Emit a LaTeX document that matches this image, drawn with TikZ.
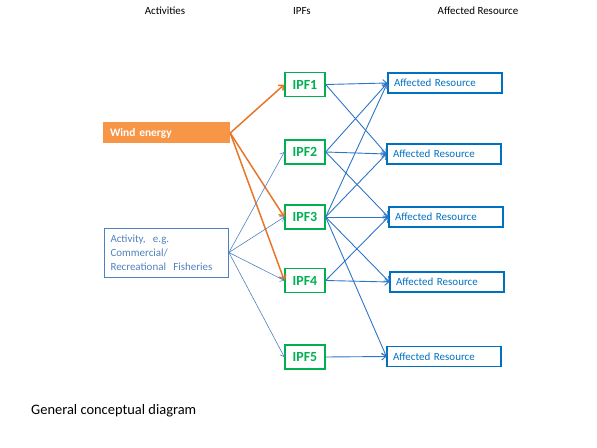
\documentclass[tikz,border=0pt]{standalone}
\usepackage{fontspec}
\setmainfont{Carlito}
\usetikzlibrary{arrows.meta}
\usetikzlibrary{positioning}
\definecolor{ipfgreen}{RGB}{0,176,80}
\definecolor{resblue}{RGB}{0,112,192}
\definecolor{linkblue}{RGB}{46,117,200}
\definecolor{actblue}{RGB}{79,129,189}
\definecolor{windfill}{RGB}{247,150,70}
\definecolor{windline}{RGB}{232,118,40}
\tikzset{hdr/.style={inner sep=0pt, font=\fontsize{11}{11}\selectfont},
driver/.style={rectangle, fill=windfill, text=white, inner xsep=7bp, inner ysep=0pt,
text width=113bp, align=left, minimum height=21bp, font=\fontsize{11.5}{12}\bfseries},
activity/.style={rectangle, draw=actblue, thick, text=actblue, inner xsep=6bp, inner ysep=0pt,
text width=112bp, align=left, minimum height=49bp, font=\fontsize{11}{14}\selectfont},
ipf/.style={rectangle, draw=ipfgreen, line width=1.3bp, text=ipfgreen, inner sep=0pt,
minimum width=40bp, minimum height=24bp, font=\fontsize{14}{14}\bfseries},
res/.style={rectangle, draw=resblue, line width=1.2bp, text=resblue, inner xsep=6bp, inner ysep=0pt,
text width=102bp, align=left, minimum height=20bp, font=\fontsize{11}{11}\selectfont},
windlink/.style={draw=windline, line width=1.5bp, -{Straight Barb[length=4bp,width=7bp]}},
actlink/.style={draw=actblue, line width=0.6bp, -{Straight Barb[length=3.5bp,width=6bp]}},
reslink/.style={draw=linkblue, line width=0.9bp, -{Straight Barb[length=4bp,width=7bp]}}}

\begin{document}
\begin{tikzpicture}[x=1bp,y=-1bp]
  \useasboundingbox (0,0) rectangle (597,448);

  \node (hacts) [hdr] at (165,11) {Activities};
  \node (hipfs) [hdr] at (302,11) {IPFs};
  \node (hres) [hdr] at (478,11) {Affected Resource};

  \node (wind) [driver] at (166.5,133) {Wind energy};
  \node (act) [activity] at (166.5,252.5) {Activity,\ \ e.g.\\Commercial/\\Recreational\ \ Fisheries};

  \node (ipf1) [ipf] at (305,84.5) {IPF1};
  \node (ipf2) [ipf] at (305,152) {IPF2};
  \node (ipf3) [ipf] at (305,217) {IPF3};
  \node (ipf4) [ipf] at (305,280.5) {IPF4};
  \node (ipf5) [ipf] at (305,357) {IPF5};

  \node (res1) [res] at (445,83) {Affected Resource};
  \node (res2) [res] at (444,154) {Affected Resource};
  \node (res3) [res] at (446,217) {Affected Resource};
  \node (res4) [res] at (447,282) {Affected Resource};
  \node (res5) [res] at (444,356.5) {Affected Resource};

  % activities to IPFs
  \draw [windlink] (wind.east) -- (ipf1.west);
  \draw [windlink] (wind.east) -- (ipf3.west);
  \draw [windlink] (wind.east) -- (ipf4.west);
  \draw [actlink] (act.east) -- (ipf2.west);
  \draw [actlink] (act.east) -- (ipf3.west);
  \draw [actlink] (act.east) -- (ipf4.west);
  \draw [actlink] (act.east) -- (ipf5.west);

  % IPFs to affected resources
  \draw [reslink] (ipf1.east) -- (res1.west);
  \draw [reslink] (ipf1.east) -- (res2.west);
  \draw [reslink] (ipf2.east) -- (res1.west);
  \draw [reslink] (ipf2.east) -- (res2.west);
  \draw [reslink] (ipf2.east) -- (res3.west);
  \draw [reslink] (ipf3.east) -- (res1.west);
  \draw [reslink] (ipf3.east) -- (res2.west);
  \draw [reslink] (ipf3.east) -- (res3.west);
  \draw [reslink] (ipf3.east) -- (res4.west);
  \draw [reslink] (ipf3.east) -- (res5.west);
  \draw [reslink] (ipf4.east) -- (res3.west);
  \draw [reslink] (ipf4.east) -- (res4.west);
  \draw [reslink] (ipf5.east) -- (res5.west);

  \node (capt) [anchor=west, inner sep=0pt, font=\fontsize{14.5}{15}\selectfont] at (31,411) {General conceptual diagram};
\end{tikzpicture}
\end{document}
